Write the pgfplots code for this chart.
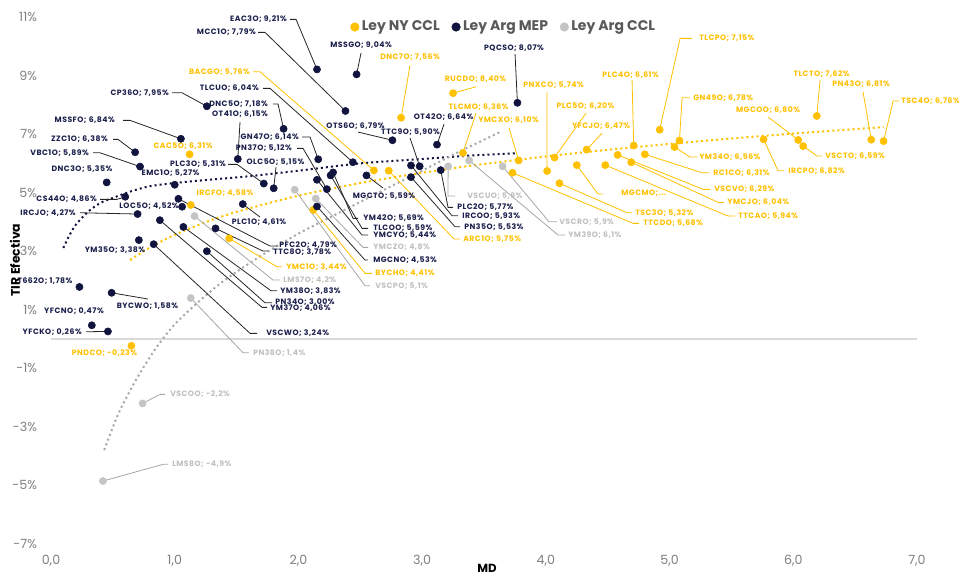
\documentclass[border=0pt]{standalone}
\usepackage{fontspec}
\setmainfont{Poppins}
\newfontfamily\lblfont{Poppins}[LetterSpace=6]
\usepackage{pgfplots}
\pgfplotsset{compat=1.18}
\definecolor{gold}{HTML}{FFC000}
\definecolor{navy}{HTML}{10143F}
\definecolor{navytext}{HTML}{1B1F4B}
\definecolor{navyline}{HTML}{262626}
\definecolor{greydot}{HTML}{C4C4C4}
\definecolor{greytext}{HTML}{BFBFBF}
\definecolor{greyline}{HTML}{A6A6A6}
\definecolor{ticktext}{HTML}{7F7F7F}
\definecolor{legtext}{HTML}{595959}
\definecolor{zeroline}{HTML}{D9D9D9}
\newcommand{\lf}{\fontsize{5.8}{7}\selectfont\lblfont\bfseries}
\begin{document}
\begin{tikzpicture}[declare function={px(\a)=(\a-51)/123.7; py(\b)=(339-\b)/29.28;},
 nl/.style={draw=navyline, line width=0.6pt},
 yl/.style={draw=gold, line width=0.6pt},
 gl/.style={draw=greyline, line width=0.6pt},
 nt/.style={text=navytext, font=\lf, inner sep=0pt},
 yt/.style={text=gold, font=\lf, inner sep=0pt},
 gt/.style={text=greytext, font=\lf, inner sep=0pt}]
\useasboundingbox (-38.25pt,-25.5pt) rectangle (681pt,408pt);
\begin{axis}[at={(0pt,0pt)}, anchor=south west, scale only axis,
 width=649.5pt, height=395.25pt,
 xmin=0, xmax=7, ymin=-7, ymax=11, clip=false,
 axis line style={draw=none}, major tick length=0pt,
 xtick={0,1,2,3,4,5,6,7},
 xticklabels={{0,0},{1,0},{2,0},{3,0},{4,0},{5,0},{6,0},{7,0}},
 ytick={-7,-5,-3,-1,1,3,5,7,9,11},
 yticklabels={-7\%,-5\%,-3\%,-1\%,1\%,3\%,5\%,7\%,9\%,11\%},
 tick label style={font=\fontsize{9.5}{11}\selectfont, text=ticktext},
 yticklabel style={xshift=-7pt},
 xticklabel style={yshift=-5pt},
 legend style={at={(0.341,0.981)}, anchor=west, draw=none, fill=none,
   font=\fontsize{10.5}{12}\selectfont\bfseries, text=legtext,
   /tikz/every even column/.append style={column sep=7pt}},
 legend columns=3,
 legend image code/.code={\draw[#1, mark size=3.2pt] plot coordinates {(0pt,0pt)};},
]
% zero line
\addplot[zeroline, line width=1.2pt, forget plot] coordinates {(0,0) (7,0)};
% trend lines
\addplot[gold, line width=1.5pt, dash pattern=on 1.5pt off 2.3pt, smooth, forget plot] coordinates {
(0.64,2.699) (0.8,3.129) (1.0,3.56) (1.25,3.991) (1.5,4.343) (2.0,4.898) (2.5,5.328) (3.0,5.680) (3.5,5.978) (4.0,6.236) (4.5,6.463) (5.0,6.666) (5.5,6.850) (6.0,7.018) (6.73,7.240)};
\addplot[navy, line width=1.5pt, dash pattern=on 1.5pt off 2.3pt, smooth, forget plot] coordinates {
(0.10,3.11) (0.15,3.55) (0.2,3.9) (0.3,4.35) (0.4,4.65) (0.5,4.82) (0.65,5.05) (0.8,5.22) (1.0,5.33) (1.3,5.45) (1.6,5.56) (2.0,5.75) (2.5,6.0) (3.0,6.15) (3.4,6.27) (3.77,6.35)};
\addplot[greydot!85!black, line width=1.5pt, dash pattern=on 1.5pt off 2.3pt, smooth, forget plot] coordinates {
(0.43,-3.79) (0.55,-2.5) (0.7,-1.3) (0.85,-0.3) (1.0,0.5) (1.2,1.3) (1.4,2.0) (1.7,2.85) (2.0,3.6) (2.3,4.25) (2.6,4.9) (3.0,5.75) (3.3,6.4) (3.63,7.07)};

% ---------- leader lines: navy ----------
\draw[nl] (2.15,9.21) -- ({px(296)},{py(19.3)}) -- ({px(290)},{py(19.3)});
\draw[nl] (2.38,7.79) -- ({px(265)},{py(32.3)}) -- ({px(258)},{py(32.3)});
\draw[nl] (2.44,6.04) -- ({px(270)},{py(88.3)}) -- ({px(263)},{py(88.3)});
\draw[nl] (1.26,7.95) -- ({px(182)},{py(92.7)}) -- ({px(172)},{py(92.7)});
\draw[nl] (1.88,7.18) -- ({px(278)},{py(104)}) -- ({px(273)},{py(104)});
\draw[nl] (1.51,6.15) -- ({px(240)},{py(122)});
\draw[nl] (1.05,6.84) -- ({px(130)},{py(120.3)}) -- ({px(123)},{py(120.3)});
\draw[nl] (0.68,6.38) -- ({px(118)},{py(139.3)}) -- ({px(113)},{py(139.3)});
\draw[nl] (0.72,5.89) -- ({px(100)},{py(152.7)}) -- ({px(93)},{py(152.7)});
\draw[nl] (1.72,5.31) -- ({px(237)},{py(164.3)}) -- ({px(228)},{py(164.3)});
\draw[nl] (2.16,6.14) -- ({px(310)},{py(137)}) -- ({px(302)},{py(137)});
\draw[nl] (2.23,5.12) -- ({px(303)},{py(148.3)}) -- ({px(297)},{py(148.3)});
\draw[nl] (1.80,5.15) -- ({px(276)},{py(167)});
\draw[nl] (2.47,9.04) -- ({px(361)},{py(53)});
\draw[nl] (3.77,8.07) -- ({px(515)},{py(54)});
\draw[nl] (3.12,6.64) -- ({px(444)},{py(124)});
\draw[nl] (2.76,6.79) -- ({px(358)},{py(132)});
\draw[nl] (2.98,5.90) -- ({px(410)},{py(138)});
\draw[nl] (0.60,4.86) -- ({px(117)},{py(199.3)}) -- ({px(100)},{py(199.3)});
\draw[nl] (0.70,4.27) -- ({px(80)},{py(212.7)});
\draw[nl] (1.55,4.61) -- ({px(260)},{py(217)});
\draw[nl] (1.03,4.79) -- ({px(270)},{py(246)}) -- ({px(277)},{py(246)});
\draw[nl] (1.33,3.78) -- ({px(263)},{py(251)}) -- ({px(268)},{py(251)});
\draw[nl] (1.07,3.83) -- ({px(271)},{py(290.7)}) -- ({px(277)},{py(290.7)});
\draw[nl] (1.26,3.00) -- ({px(265)},{py(302.7)}) -- ({px(272)},{py(302.7)});
\draw[nl] (0.88,4.06) -- ({px(262)},{py(307.3)}) -- ({px(267)},{py(307.3)});
\draw[nl] (0.83,3.24) -- ({px(250)},{py(333.3)}) -- ({px(257)},{py(333.3)});
\draw[nl] (0.49,1.58) -- ({px(148)},{py(299)});
\draw[nl] (0.46,0.26) -- ({px(86)},{py(331.7)});
\draw[nl] (2.55,5.59) -- ({px(383)},{py(188)});
\draw[nl] (2.28,5.69) -- ({px(353)},{py(218.3)}) -- ({px(358)},{py(218.3)});
\draw[nl] (2.26,5.59) -- ({px(362)},{py(228.3)}) -- ({px(368)},{py(228.3)});
\draw[nl] (2.15,5.44) -- ({px(362)},{py(235)}) -- ({px(368)},{py(235)});
\draw[nl] (2.15,4.53) -- ({px(365)},{py(260)}) -- ({px(368)},{py(260)});
\draw[nl] (3.15,5.77) -- ({px(448)},{py(207.3)}) -- ({px(453)},{py(207.3)});
\draw[nl] (2.91,5.93) -- ({px(452)},{py(215.7)}) -- ({px(458)},{py(215.7)});
\draw[nl] (2.91,5.53) -- ({px(455)},{py(226.7)}) -- ({px(460)},{py(226.7)});
% ---------- leader lines: gold ----------
\draw[yl] (2.61,5.76) -- ({px(260)},{py(71.7)}) -- ({px(253)},{py(71.7)});
\draw[yl] (2.83,7.56) -- ({px(410)},{py(65)});
\draw[yl] (3.25,8.40) -- ({px(476)},{py(86.7)});
\draw[yl] (4.01,5.74) -- ({px(547)},{py(92)});
\draw[yl] (4.07,6.20) -- ({px(586)},{py(113)});
\draw[yl] (3.33,6.36) -- ({px(476)},{py(113)});
\draw[yl] (3.78,6.10) -- ({px(509)},{py(128)});
\draw[yl] (4.33,6.47) -- ({px(602)},{py(133)});
\draw[yl] (4.92,7.15) -- ({px(680)},{py(38.3)}) -- ({px(692)},{py(38.3)});
\draw[yl] (4.71,6.61) -- ({px(632)},{py(80)});
\draw[yl] (5.08,6.78) -- ({px(682)},{py(97.7)}) -- ({px(690)},{py(97.7)});
\draw[yl] (6.19,7.62) -- ({px(820)},{py(80)});
\draw[yl] (6.63,6.81) -- ({px(863)},{py(92)});
\draw[yl] (6.04,6.80) -- ({px(768)},{py(117)});
\draw[yl] (6.73,6.76) -- ({px(893)},{py(101)}) -- ({px(899)},{py(101)});
\draw[yl] (5.04,6.56) -- ({px(690)},{py(157)}) -- ({px(697)},{py(157)});
\draw[yl] (4.80,6.31) -- ({px(702)},{py(172.7)}) -- ({px(709)},{py(172.7)});
\draw[yl] (5.76,6.82) -- ({px(778)},{py(170.7)}) -- ({px(784)},{py(170.7)});
\draw[yl] (6.08,6.59) -- ({px(817)},{py(156)}) -- ({px(822)},{py(156)});
\draw[yl] (4.58,6.29) -- ({px(703)},{py(189.3)}) -- ({px(710)},{py(189.3)});
\draw[yl] (4.69,6.04) -- ({px(718)},{py(202.3)}) -- ({px(724)},{py(202.3)});
\draw[yl] (4.48,5.94) -- ({px(728)},{py(216)}) -- ({px(735)},{py(216)});
\draw[yl] (4.25,5.94) -- ({px(598)},{py(194)}) -- ({px(603)},{py(194)});
\draw[yl] (4.11,5.32) -- ({px(627)},{py(212.7)}) -- ({px(632)},{py(212.7)});
\draw[yl] (3.73,5.68) -- ({px(633)},{py(223.3)}) -- ({px(639)},{py(223.3)});
\draw[yl] (1.44,3.44) -- ({px(277)},{py(266.7)}) -- ({px(282)},{py(266.7)});
\draw[yl] (2.12,4.41) -- ({px(365)},{py(273.3)}) -- ({px(372)},{py(273.3)});
\draw[yl] (2.73,5.75) -- ({px(454)},{py(239)}) -- ({px(460)},{py(239)});
% ---------- leader lines: grey ----------
\draw[gl] (1.16,4.2) -- ({px(273)},{py(280)}) -- ({px(280)},{py(280)});
\draw[gl] (1.13,1.4) -- ({px(243)},{py(352.7)}) -- ({px(249)},{py(352.7)});
\draw[gl] (0.74,-2.2) -- ({px(160)},{py(394.3)}) -- ({px(165)},{py(394.3)});
\draw[gl] (0.42,-4.85) -- ({px(163)},{py(464.3)}) -- ({px(168)},{py(464.3)});
\draw[gl] (2.14,4.8) -- ({px(363)},{py(247.3)}) -- ({px(368)},{py(247.3)});
\draw[gl] (1.97,5.1) -- ({px(365)},{py(285.7)}) -- ({px(370)},{py(285.7)});
\draw[gl] (3.21,5.9) -- ({px(448)},{py(196)}) -- ({px(455)},{py(196)});
\draw[gl] (3.65,5.9) -- ({px(549)},{py(221.7)}) -- ({px(557)},{py(221.7)});
\draw[gl] (3.38,6.1) -- ({px(558)},{py(235)}) -- ({px(565)},{py(235)});

% ---------- series ----------
\addplot[only marks, mark=*, mark size=2.7pt, color=gold] coordinates {
(2.61,5.76) (1.12,6.31) (2.83,7.56) (3.25,8.40) (4.01,5.74) (4.07,6.20) (3.33,6.36) (3.78,6.10) (4.33,6.47) (4.92,7.15) (4.71,6.61) (5.08,6.78) (6.19,7.62) (6.63,6.81) (6.04,6.80) (6.73,6.76) (5.04,6.56) (4.80,6.31) (5.76,6.82) (6.08,6.59) (4.58,6.29) (4.69,6.04) (4.48,5.94) (4.25,5.94) (4.11,5.32) (3.73,5.68) (1.44,3.44) (0.65,-0.23) (1.13,4.58) (2.12,4.41) (2.73,5.75)};
\addlegendentry{Ley NY CCL}
\addplot[only marks, mark=*, mark size=2.7pt, color=navy] coordinates {
(2.15,9.21) (2.38,7.79) (2.47,9.04) (1.26,7.95) (1.88,7.18) (1.51,6.15) (1.05,6.84) (0.68,6.38) (0.72,5.89) (0.45,5.35) (1.00,5.27) (1.72,5.31) (2.16,6.14) (2.23,5.12) (1.80,5.15) (2.44,6.04) (3.77,8.07) (3.12,6.64) (2.76,6.79) (2.98,5.90) (2.55,5.59) (2.28,5.69) (2.26,5.59) (2.15,5.44) (2.15,4.53) (3.15,5.77) (2.91,5.93) (2.91,5.53) (0.60,4.86) (0.70,4.27) (1.06,4.52) (1.55,4.61) (1.03,4.79) (1.33,3.78) (1.07,3.83) (1.26,3.00) (0.88,4.06) (0.71,3.38) (0.83,3.24) (0.23,1.78) (0.49,1.58) (0.33,0.47) (0.46,0.26)};
\addlegendentry{Ley Arg MEP}
\addplot[only marks, mark=*, mark size=2.7pt, color=greydot] coordinates {
(1.16,4.2) (1.13,1.4) (0.74,-2.2) (0.42,-4.85) (2.14,4.8) (1.97,5.1) (3.21,5.9) (3.65,5.9) (3.38,6.1)};
\addlegendentry{Ley Arg CCL}

% ---------- labels: navy ----------
\node[nt,anchor=east] at ({px(287)},{py(19.3)}) {EAC3O; 9,21\%};
\node[nt,anchor=east] at ({px(256)},{py(32.3)}) {MCC1O; 7,79\%};
\node[nt,anchor=east] at ({px(259)},{py(88.3)}) {TLCUO; 6,04\%};
\node[nt,anchor=east] at ({px(169)},{py(92.7)}) {CP36O; 7,95\%};
\node[nt,anchor=east] at ({px(268)},{py(104)}) {DNC5O; 7,18\%};
\node[nt] at ({px(240)},{py(114)}) {OT41O; 6,15\%};
\node[nt,anchor=east] at ({px(115)},{py(120.3)}) {MSSFO; 6,84\%};
\node[nt,anchor=east] at ({px(108)},{py(139.3)}) {ZZC1O; 6,38\%};
\node[nt,anchor=east] at ({px(89)},{py(152.7)}) {VBC1O; 5,89\%};
\node[nt] at ({px(82)},{py(169.3)}) {DNC3O; 5,35\%};
\node[nt] at ({px(170.5)},{py(173.3)}) {EMC1O; 5,27\%};
\node[nt,anchor=east] at ({px(226)},{py(164.3)}) {PLC3O; 5,31\%};
\node[nt,anchor=east] at ({px(299)},{py(137)}) {GN47O; 6,14\%};
\node[nt,anchor=east] at ({px(292)},{py(148.3)}) {PN37O; 5,12\%};
\node[nt] at ({px(275.5)},{py(161.7)}) {OLC5O; 5,15\%};
\node[nt] at ({px(361)},{py(45)}) {MSSGO; 9,04\%};
\node[nt] at ({px(514)},{py(47.7)}) {PQCSO; 8,07\%};
\node[nt] at ({px(443.5)},{py(117.3)}) {OT42O; 6,64\%};
\node[nt] at ({px(355.5)},{py(125.7)}) {OTS6O; 6,79\%};
\node[nt] at ({px(410.5)},{py(132.3)}) {TTC9O; 5,90\%};
\node[nt,anchor=east] at ({px(97)},{py(199.3)}) {CS44O; 4,86\%};
\node[nt,anchor=east] at ({px(76)},{py(212.7)}) {IRCJO; 4,27\%};
\node[nt] at ({px(149)},{py(206)}) {LOC5O; 4,52\%};
\node[nt] at ({px(259)},{py(222.3)}) {PLC1O; 4,61\%};
\node[nt,anchor=west] at ({px(279)},{py(245)}) {PFC2O; 4,79\%};
\node[nt,anchor=west] at ({px(273)},{py(252)}) {TTC8O; 3,78\%};
\node[nt,anchor=west] at ({px(280)},{py(290.7)}) {YM38O; 3,83\%};
\node[nt,anchor=west] at ({px(275)},{py(302.2)}) {PN34O; 3,00\%};
\node[nt,anchor=west] at ({px(270)},{py(308)}) {YM37O; 4,06\%};
\node[nt] at ({px(115)},{py(250)}) {YM35O; 3,38\%};
\node[nt,anchor=west] at ({px(266)},{py(333.3)}) {VSCWO; 3,24\%};
\node[nt] at ({px(45)},{py(281)}) {T662O; 1,78\%};
\node[nt] at ({px(147.5)},{py(306)}) {BYCWO; 1,58\%};
\node[nt] at ({px(74)},{py(310.7)}) {YFCNO; 0,47\%};
\node[nt,anchor=east] at ({px(82)},{py(331.7)}) {YFCKO; 0,26\%};
\node[nt] at ({px(384)},{py(196)}) {MGCTO; 5,59\%};
\node[nt,anchor=west] at ({px(363)},{py(218.3)}) {YM42O; 5,69\%};
\node[nt,anchor=west] at ({px(373)},{py(228.3)}) {TLCOO; 5,59\%};
\node[nt,anchor=west] at ({px(373)},{py(235)}) {YMCYO; 5,44\%};
\node[nt,anchor=west] at ({px(373)},{py(260)}) {MGCNO; 4,53\%};
\node[nt,anchor=west] at ({px(457)},{py(207.3)}) {PLC2O; 5,77\%};
\node[nt,anchor=west] at ({px(462)},{py(215.7)}) {IRCOO; 5,93\%};
\node[nt,anchor=west] at ({px(464)},{py(226.7)}) {PN35O; 5,53\%};
% ---------- labels: gold ----------
\node[yt,anchor=east] at ({px(250)},{py(71.7)}) {BACGO; 5,76\%};
\node[yt] at ({px(183)},{py(145.7)}) {CAC5O; 6,31\%};
\node[yt] at ({px(410)},{py(57.3)}) {DNC7O; 7,56\%};
\node[yt] at ({px(475.5)},{py(79.3)}) {RUCDO; 8,40\%};
\node[yt] at ({px(553.5)},{py(85)}) {PNXCO; 5,74\%};
\node[yt] at ({px(585.5)},{py(105.7)}) {PLC5O; 6,20\%};
\node[yt] at ({px(478.5)},{py(106.7)}) {TLCMO; 6,36\%};
\node[yt] at ({px(508.5)},{py(120)}) {YMCXO; 6,10\%};
\node[yt] at ({px(601)},{py(126)}) {YFCJO; 6,47\%};
\node[yt,anchor=west] at ({px(699)},{py(38.3)}) {TLCPO; 7,15\%};
\node[yt] at ({px(630.5)},{py(75)}) {PLC4O; 6,61\%};
\node[yt,anchor=west] at ({px(693)},{py(97.7)}) {GN49O; 6,78\%};
\node[yt] at ({px(821.5)},{py(74.3)}) {TLCTO; 7,62\%};
\node[yt] at ({px(861)},{py(84.3)}) {PN43O; 6,81\%};
\node[yt] at ({px(768)},{py(110)}) {MGCOO; 6,80\%};
\node[yt,anchor=west] at ({px(901)},{py(101)}) {TSC4O; 6,76\%};
\node[yt,anchor=west] at ({px(699)},{py(157)}) {YM34O; 6,56\%};
\node[yt,anchor=west] at ({px(713)},{py(172.7)}) {RC1CO; 6,31\%};
\node[yt,anchor=west] at ({px(788)},{py(170.7)}) {IRCPO; 6,82\%};
\node[yt,anchor=west] at ({px(825)},{py(156)}) {VSCTO; 6,59\%};
\node[yt,anchor=west] at ({px(714)},{py(189.3)}) {VSCVO; 6,29\%};
\node[yt,anchor=west] at ({px(727)},{py(202.3)}) {YMCJO; 6,04\%};
\node[yt,anchor=west] at ({px(738)},{py(216)}) {TTCAO; 5,94\%};
\node[yt,anchor=west] at ({px(621)},{py(193.3)}) {MGCMO;...};
\node[yt,anchor=west] at ({px(635)},{py(212.7)}) {TSC3O; 5,32\%};
\node[yt,anchor=west] at ({px(643)},{py(223.3)}) {TTCDO; 5,68\%};
\node[yt,anchor=west] at ({px(286)},{py(266.7)}) {YMC1O; 3,44\%};
\node[yt] at ({px(104.5)},{py(353.3)}) {PNDCO; -0,23\%};
\node[yt] at ({px(225)},{py(193.3)}) {IRCFO; 4,58\%};
\node[yt,anchor=west] at ({px(375)},{py(273.3)}) {BYCHO; 4,41\%};
\node[yt,anchor=west] at ({px(463)},{py(239)}) {ARC1O; 5,75\%};
% ---------- labels: grey ----------
\node[gt,anchor=west] at ({px(283)},{py(280)}) {LMS7O; 4,2\%};
\node[gt,anchor=west] at ({px(253)},{py(352.7)}) {PN38O; 1,4\%};
\node[gt,anchor=west] at ({px(170)},{py(394.3)}) {VSCOO; -2,2\%};
\node[gt,anchor=west] at ({px(172)},{py(464.3)}) {LMS8O; -4,9\%};
\node[gt,anchor=west] at ({px(373)},{py(247.3)}) {YMCZO; 4,8\%};
\node[gt,anchor=west] at ({px(375)},{py(285.7)}) {VSCPO; 5,1\%};
\node[gt,anchor=west] at ({px(467)},{py(196)}) {VSCUO; 5,9\%};
\node[gt,anchor=west] at ({px(559)},{py(221.7)}) {VSCRO; 5,9\%};
\node[gt,anchor=west] at ({px(568)},{py(235)}) {YM39O; 6,1\%};
% axis titles
\node[rotate=90, font=\fontsize{9.3}{10}\selectfont\bfseries, text=black] at ({px(15)},{py(260)}) {TIR Efectiva};
\node[font=\fontsize{8.8}{10}\selectfont\bfseries, text=black] at ({px(487)},{py(568.5)}) {MD};
\end{axis}
\end{tikzpicture}
\end{document}
